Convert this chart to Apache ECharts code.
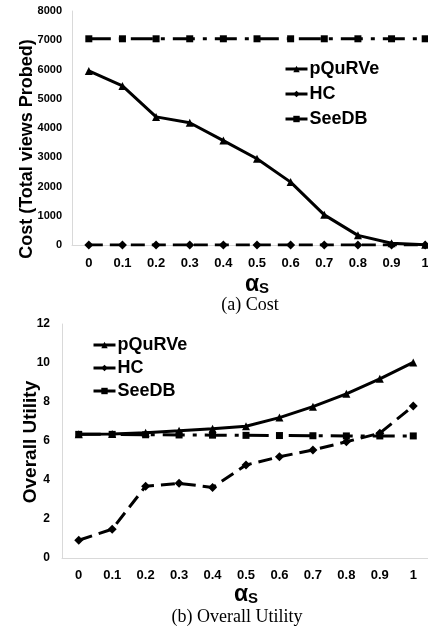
<!DOCTYPE html>
<html>
<head>
<meta charset="utf-8">
<script src="https://cdn.jsdelivr.net/npm/echarts@6/dist/echarts.min.js"></script>
<style>
  html, body { margin: 0; padding: 0; background: #fff; }
  #chart { width: 428px; height: 631px; }
</style>
</head>
<body>
<div id="chart"></div>
<script>
// alpha_s values shared by both panels
const alphaS = ['0', '0.1', '0.2', '0.3', '0.4', '0.5', '0.6', '0.7', '0.8', '0.9', '1'];

// (a) Cost: total views probed
const costPQuRVe = [5950, 5440, 4380, 4180, 3570, 2950, 2150, 1030, 330, 60, 10];
const costHC     = [0, 0, 0, 0, 0, 0, 0, 0, 0, 0, 0];
const costSeeDB  = [7050, 7050, 7050, 7050, 7050, 7050, 7050, 7050, 7050, 7050, 7050];

// (b) Overall utility
const utilPQuRVe = [6.34, 6.36, 6.42, 6.52, 6.63, 6.76, 7.2, 7.76, 8.42, 9.19, 10.03];
const utilHC     = [0.91, 1.48, 3.68, 3.83, 3.62, 4.77, 5.19, 5.54, 5.96, 6.4, 7.8];
const utilSeeDB  = [6.34, 6.34, 6.32, 6.31, 6.3, 6.29, 6.28, 6.27, 6.26, 6.26, 6.26];

const costTicks = [0, 1000, 2000, 3000, 4000, 5000, 6000, 7000, 8000];
const utilTicks = [0, 2, 4, 6, 8, 10, 12];

const seriesNames = ['pQuRVe', 'HC', 'SeeDB'];

const BLACK = '#000';
const AXIS_GRAY = '#d9d9d9';
const SANS = 'Arial, "Liberation Sans", sans-serif';
const SERIF = '"Times New Roman", "Liberation Serif", serif';

const styles = {
  pQuRVe: { symbol: 'triangle', symbolSize: 8, dash: 'solid' },
  HC:     { symbol: 'diamond',  symbolSize: 9, dash: [14, 7] },
  SeeDB:  { symbol: 'rect',     symbolSize: 7, dash: [22, 8, 4, 8] }
};

function makeSeries(name, data, idx) {
  const s = styles[name];
  return {
    name: name,
    type: 'line',
    xAxisIndex: idx,
    yAxisIndex: idx,
    data: data,
    symbol: s.symbol,
    symbolSize: s.symbolSize,
    showAllSymbol: true,
    smooth: false,
    lineStyle: { color: BLACK, width: 3, type: s.dash },
    itemStyle: { color: BLACK },
    emphasis: { disabled: true },
    animation: false
  };
}

function xAxis(gridIndex, margin) {
  return {
    type: 'category',
    gridIndex: gridIndex,
    data: alphaS,
    boundaryGap: true,
    axisLine: { show: true, lineStyle: { color: AXIS_GRAY, width: 1 } },
    axisTick: { show: false },
    axisLabel: { color: BLACK, fontFamily: SANS, fontWeight: 'bold', fontSize: 13, margin: margin, interval: 0, hideOverlap: false },
    name: '{a|α}{s|S}',
    nameLocation: 'middle',
    nameGap: gridIndex === 0 ? 28 : 24,
    nameTextStyle: {
      rich: {
        a: { fontFamily: SANS, fontWeight: 'bold', fontSize: 23, color: BLACK },
        s: { fontFamily: SANS, fontWeight: 'bold', fontSize: 15, color: BLACK, verticalAlign: 'bottom', padding: [8, 0, 0, 0] }
      }
    }
  };
}

function yAxis(gridIndex, ticks, margin, fontSize) {
  return {
    type: 'value',
    gridIndex: gridIndex,
    min: ticks[0],
    max: ticks[ticks.length - 1],
    interval: ticks[1] - ticks[0],
    axisLine: { show: true, lineStyle: { color: AXIS_GRAY, width: 1 } },
    axisTick: { show: false },
    splitLine: { show: false },
    axisLabel: {
      color: BLACK, fontFamily: SANS, fontWeight: 'bold', fontSize: fontSize, margin: margin,
      formatter: function (v) { return String(v); }
    }
  };
}

function legend(left, top, gap) {
  return {
    orient: 'vertical',
    left: left,
    top: top,
    itemWidth: 22,
    itemHeight: 8,
    itemGap: gap,
    data: seriesNames,
    lineStyle: { type: 'solid', width: 3 },
    textStyle: { color: BLACK, fontFamily: SANS, fontWeight: 'bold', fontSize: 18, padding: [0, 0, 0, -3] },
    selectedMode: false
  };
}

const chart = echarts.init(document.getElementById('chart'), null, { renderer: 'canvas' });

chart.setOption({
  backgroundColor: '#fff',
  animation: false,
  grid: [
    // the cost panel runs slightly past the right edge of the page
    { left: 72, top: 11, width: 370, height: 234, containLabel: false, outerBoundsMode: 'none' },
    { left: 62, top: 324, width: 368, height: 234, containLabel: false, outerBoundsMode: 'none' }
  ],
  xAxis: [xAxis(0, 12), xAxis(1, 11)],
  yAxis: [yAxis(0, costTicks, 10, 11), yAxis(1, utilTicks, 12, 12)],
  legend: [legend(279, 55, 7), legend(87, 331, 5)],
  title: [
    { text: '(a) Cost', left: 245, top: 291, textAlign: 'center',
      textStyle: { fontFamily: SERIF, fontWeight: 'normal', fontSize: 18, color: BLACK } },
    { text: '(b) Overall Utility', left: 232, top: 603, textAlign: 'center',
      textStyle: { fontFamily: SERIF, fontWeight: 'normal', fontSize: 18, color: BLACK } }
  ],
  graphic: [
    { type: 'text', x: 27, y: 149, rotation: Math.PI / 2,
      style: { text: 'Cost (Total views Probed)', fill: BLACK, font: 'bold 18px ' + SANS, textAlign: 'center', textVerticalAlign: 'middle' } },
    { type: 'text', x: 31, y: 442, rotation: Math.PI / 2,
      style: { text: 'Overall Utility', fill: BLACK, font: 'bold 19px ' + SANS, textAlign: 'center', textVerticalAlign: 'middle' } }
  ],
  series: [
    makeSeries('pQuRVe', costPQuRVe, 0),
    makeSeries('HC', costHC, 0),
    makeSeries('SeeDB', costSeeDB, 0),
    makeSeries('pQuRVe', utilPQuRVe, 1),
    makeSeries('HC', utilHC, 1),
    makeSeries('SeeDB', utilSeeDB, 1)
  ]
});
</script>
</body>
</html>
